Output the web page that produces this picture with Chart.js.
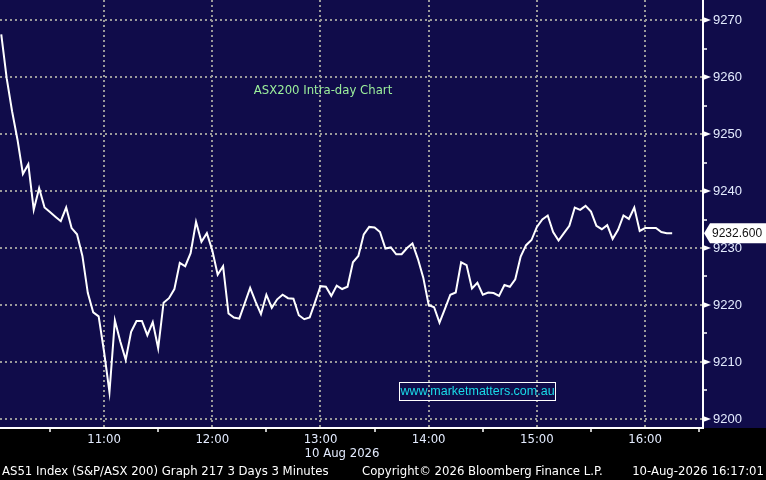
<!DOCTYPE html>
<html>
<head>
<meta charset="utf-8">
<script src="https://cdn.jsdelivr.net/npm/chart.js@4.4.0/dist/chart.umd.min.js"></script>
<style>
  html, body { margin: 0; padding: 0; background: #000; }
  #wrap { width: 766px; height: 480px; }
</style>
</head>
<body>
<div id="wrap"><canvas id="chart" width="766" height="480"></canvas></div>
<script>
// AS51 3-minute closes, 10 Aug
const firstBar = '10:03';
const barMinutes = 3;
const closes = [
  9267.5, 9259.8, 9254.0, 9249.0, 9243.0, 9244.7, 9236.7, 9240.5, 9237.1, 9236.3,
  9235.5, 9234.7, 9237.1, 9233.5, 9232.4, 9228.6, 9222.1, 9218.7, 9218.0, 9211.8,
  9204.7, 9217.3, 9213.6, 9210.4, 9215.3, 9217.2, 9217.2, 9214.7, 9217.0, 9212.4,
  9220.4, 9221.2, 9222.8, 9227.4, 9226.8, 9229.1, 9234.6, 9231.1, 9232.6, 9229.6,
  9225.3, 9226.8, 9218.5, 9217.8, 9217.6, 9220.3, 9223.0, 9220.6, 9218.4, 9221.8,
  9219.5, 9221.0, 9221.8, 9221.2, 9221.1, 9218.2, 9217.5, 9217.8, 9220.5, 9223.3,
  9223.2, 9221.6, 9223.4, 9222.8, 9223.2, 9227.5, 9228.6, 9232.4, 9233.7, 9233.6,
  9232.8, 9229.9, 9230.1, 9228.9, 9228.9, 9230.0, 9230.8, 9228.1, 9224.8, 9220.0,
  9219.6, 9216.9, 9219.3, 9221.8, 9222.2, 9227.5, 9227.0, 9222.9, 9223.9, 9221.8,
  9222.2, 9222.1, 9221.6, 9223.5, 9223.2, 9224.5, 9228.5, 9230.5, 9231.4, 9233.7,
  9235.0, 9235.7, 9232.8, 9231.3, 9232.6, 9233.9, 9237.1, 9236.7, 9237.4, 9236.4,
  9233.9, 9233.3, 9234.0, 9231.6, 9233.2, 9235.7, 9235.1, 9237.1, 9233.0, 9233.5,
  9233.5, 9233.5, 9232.8, 9232.6, 9232.6
];
const timeTicks = ['10:30', '11:00', '11:30', '12:00', '12:30', '13:00', '13:30',
  '14:00', '14:30', '15:00', '15:30', '16:00', '16:30'];
const priceTicks = [9200, 9205, 9210, 9215, 9220, 9225, 9230, 9235,
  9240, 9245, 9250, 9255, 9260, 9265, 9270];

const chartTitle = 'ASX200 Intra-day Chart';
const watermark = 'www.marketmatters.com.au';
const dateLabel = '10 Aug 2026';
const footLeft = 'AS51 Index (S&P/ASX 200) Graph 217 3 Days 3 Minutes';
const footMid = 'Copyright\u00a9 2026 Bloomberg Finance L.P.';
const footRight = '10-Aug-2026 16:17:01';

const toMin = s => { const [h, m] = s.split(':').map(Number); return h * 60 + m; };
const isHour = v => v % 60 === 0;
const isMajor = v => v % 10 === 0;

const NAVY = '#100c4a';
const GRID = '#9a9a9a';
const LABEL = '#e4ecff';
const condensed = '"DejaVu Sans Condensed", "DejaVu Sans", sans-serif';

const points = closes.map((v, i) => ({ x: toMin(firstBar) + i * barMinutes, y: v }));

const chrome = {
  id: 'chrome',
  beforeDraw(chart) {
    const { ctx, width, chartArea } = chart;
    ctx.save();
    ctx.fillStyle = '#000';
    ctx.fillRect(0, 0, width, chart.height);
    ctx.fillStyle = NAVY;
    ctx.fillRect(0, 0, width, chartArea.bottom);
    ctx.restore();
  },
  beforeDatasetsDraw(chart) {
    const { ctx } = chart;
    ctx.save();
    ctx.textBaseline = 'middle';
    ctx.textAlign = 'center';
    ctx.font = '13px ' + condensed;
    ctx.fillStyle = '#9cf09c';
    ctx.fillText(chartTitle, 323, 91);

    ctx.font = '12.5px "Liberation Sans", Arial, sans-serif';
    ctx.fillStyle = '#19dbe8';
    ctx.fillText(watermark, 477.5, 392);
    ctx.strokeStyle = '#fff';
    ctx.lineWidth = 1;
    ctx.strokeRect(399.5, 382.5, 156, 18);
    ctx.restore();
  },
  afterDraw(chart) {
    const { ctx, chartArea } = chart;
    const y = chart.scales.y;
    ctx.save();
    // arrow heads on major price ticks
    ctx.fillStyle = '#fff';
    priceTicks.filter(isMajor).forEach(v => {
      const py = y.getPixelForValue(v);
      ctx.beginPath();
      ctx.moveTo(chartArea.right, py - 3);
      ctx.lineTo(chartArea.right + 8, py);
      ctx.lineTo(chartArea.right, py + 3);
      ctx.closePath();
      ctx.fill();
    });

    // last price tag
    const last = closes[closes.length - 1];
    const ly = y.getPixelForValue(last);
    const x0 = chartArea.right + 1;
    ctx.beginPath();
    ctx.moveTo(x0, ly);
    ctx.lineTo(x0 + 6, ly - 10);
    ctx.lineTo(chart.width, ly - 10);
    ctx.lineTo(chart.width, ly + 10);
    ctx.lineTo(x0 + 6, ly + 10);
    ctx.closePath();
    ctx.fillStyle = '#fff';
    ctx.fill();
    ctx.fillStyle = '#111';
    ctx.font = '12px "Liberation Sans", Arial, sans-serif';
    ctx.textBaseline = 'middle';
    ctx.textAlign = 'left';
    ctx.fillText(last.toFixed(3), x0 + 8, ly + 1);

    // footer
    ctx.font = '13px ' + condensed;
    ctx.fillStyle = LABEL;
    ctx.textAlign = 'center';
    ctx.fillText(dateLabel, 342, 454);
    ctx.fillStyle = '#fff';
    ctx.textAlign = 'left';
    ctx.fillText(footLeft, 2, 472);
    ctx.fillText(footMid, 362, 472);
    ctx.textAlign = 'right';
    ctx.fillText(footRight, 764, 472);
    ctx.restore();
  }
};

const noPad = s => { s.paddingTop = 0; s.paddingBottom = 0; s.paddingLeft = 0; s.paddingRight = 0; };

new Chart(document.getElementById('chart'), {
  type: 'line',
  data: {
    datasets: [{
      data: points,
      borderColor: '#ffffff',
      borderWidth: 2,
      pointRadius: 0,
      tension: 0,
      fill: false
    }]
  },
  options: {
    responsive: false,
    animation: false,
    devicePixelRatio: 1,
    layout: { padding: 0, autoPadding: false },
    plugins: {
      legend: { display: false },
      tooltip: { enabled: false }
    },
    scales: {
      x: {
        type: 'linear',
        min: 602.3,
        max: 992.1,
        afterBuildTicks: s => { s.ticks = timeTicks.map(t => ({ value: toMin(t) })); },
        afterFit: s => { s.height = 52; noPad(s); },
        grid: {
          color: c => (c.tick && isHour(c.tick.value)) ? GRID : 'transparent',
          lineWidth: 2,
          tickLength: 4,
          tickWidth: 1.5,
          tickColor: c => (c.tick && isHour(c.tick.value)) ? 'transparent' : '#fff'
        },
        border: { color: '#fff', width: 2, dash: [2, 3] },
        ticks: {
          autoSkip: false,
          maxRotation: 0,
          padding: 0,
          color: LABEL,
          font: { family: condensed, size: 13 },
          callback: (v, i) => timeTicks[i].endsWith(':00') ? timeTicks[i] : ''
        }
      },
      y: {
        position: 'right',
        min: 9198.42,
        max: 9273.51,
        afterBuildTicks: s => { s.ticks = priceTicks.map(v => ({ value: v })); },
        afterFit: s => { s.width = 63; noPad(s); },
        grid: {
          color: c => (c.tick && isMajor(c.tick.value)) ? GRID : 'transparent',
          lineWidth: 2,
          tickLength: 4,
          tickWidth: 1.5,
          tickColor: c => (c.tick && isMajor(c.tick.value)) ? 'transparent' : '#fff'
        },
        border: { color: '#fff', width: 2, dash: [2, 3] },
        ticks: {
          autoSkip: false,
          padding: 6,
          color: LABEL,
          font: { family: '"Liberation Sans", Arial, sans-serif', size: 13 },
          callback: v => isMajor(v) ? String(v) : ''
        }
      }
    }
  },
  plugins: [chrome]
});
</script>
</body>
</html>
